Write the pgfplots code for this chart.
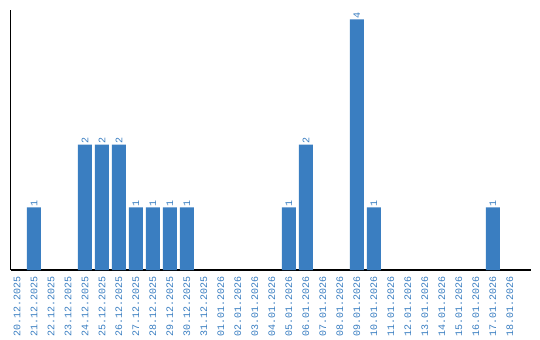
\documentclass[border=0pt]{standalone}
\usepackage{fontspec}
\setmainfont{Liberation Sans}
\setmonofont{Liberation Mono}
\usepackage{pgfplots}
\pgfplotsset{compat=1.18}
\definecolor{barblue}{HTML}{3A7EC1}
\begin{document}
\begin{tikzpicture}
\path[use as bounding box] (0,0) rectangle (540bp,340bp);
\begin{axis}[
  at={(10.5bp,70bp)}, anchor=south west,
  scale only axis,
  width=520.5bp, height=260bp,
  xmin=-0.38, xmax=30.24,
  ymin=0, ymax=4.15,
  axis x line=bottom, axis y line=left,
  axis line style={-, black, line width=1.2bp},
  ytick=\empty,
  xtick={0,...,29},
  major tick length=0pt,
  /pgf/number format/assume math mode=true,
  xticklabels={20.12.2025,21.12.2025,22.12.2025,23.12.2025,24.12.2025,25.12.2025,26.12.2025,27.12.2025,28.12.2025,29.12.2025,30.12.2025,31.12.2025,01.01.2026,02.01.2026,03.01.2026,04.01.2026,05.01.2026,06.01.2026,07.01.2026,08.01.2026,09.01.2026,10.01.2026,11.01.2026,12.01.2026,13.01.2026,14.01.2026,15.01.2026,16.01.2026,17.01.2026,18.01.2026},
  xticklabel style={rotate=90, anchor=east, inner sep=0pt, xshift=-6bp,
    font=\ttfamily\fontsize{10bp}{12bp}\selectfont, text=barblue},
  ybar, bar width=14bp,
  nodes near coords,
  every node near coord/.append style={rotate=90, anchor=west, inner sep=1bp,
    font=\ttfamily\fontsize{10bp}{12bp}\selectfont, text=barblue},
  clip=false,
]
\addplot[fill=barblue, draw=none] coordinates {
  (1,1) (4,2) (5,2) (6,2) (7,1) (8,1) (9,1) (10,1)
  (16,1) (17,2) (20,4) (21,1) (28,1)
};
\end{axis}
\end{tikzpicture}
\end{document}
